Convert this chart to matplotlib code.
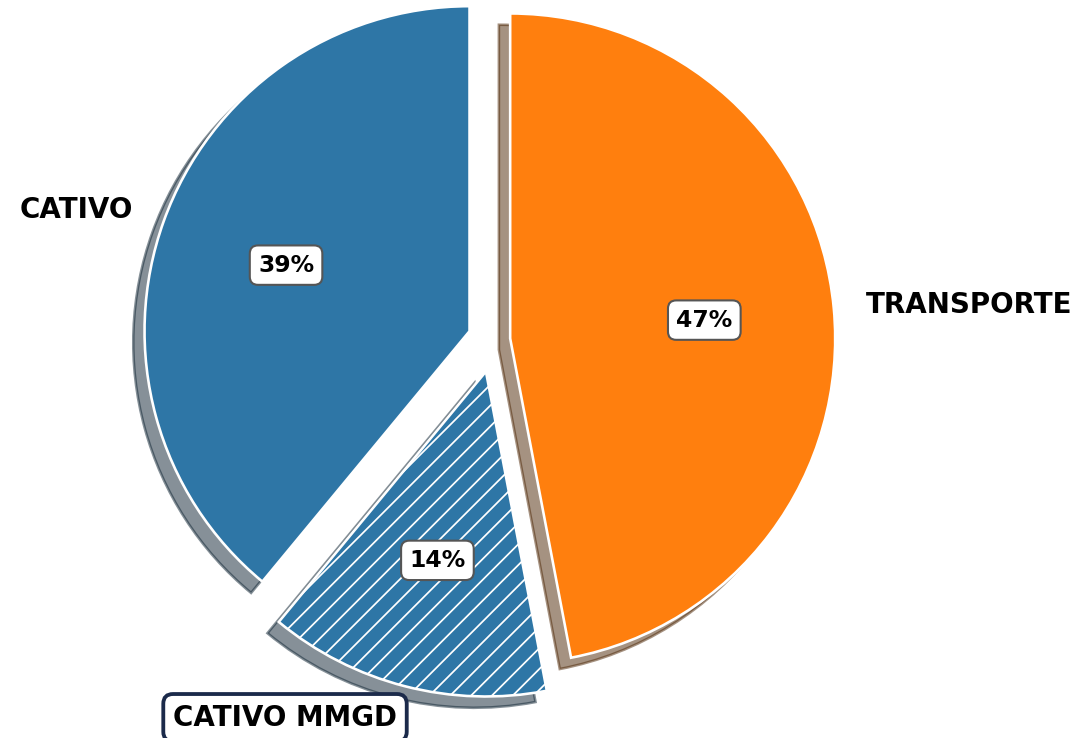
import matplotlib.pyplot as plt

# dados do grafico
categorias = ['TRANSPORTE', 'CATIVO MMGD', 'CATIVO']
valores = [47, 14, 39]
cores = ['#ff7f0e', '#2e76a6', '#2e76a6']
explodir = [0.05, 0.10, 0.08]

fig = plt.figure(figsize=(1082 / 125, 738 / 125), dpi=125)
ax = fig.add_axes([0, 0, 1, 1])

wedges, textos, pcts = ax.pie(
    valores,
    labels=categorias,
    colors=cores,
    explode=explodir,
    startangle=90,
    counterclock=False,
    autopct='%1.0f%%',
    pctdistance=0.6,
    labeldistance=1.1,
    shadow=True,
    wedgeprops={'edgecolor': 'white', 'linewidth': 1.5},
    textprops={'fontsize': 16, 'fontweight': 'bold'},
)

# fatia MMGD hachurada
wedges[1].set_hatch('//')

for t in pcts:
    t.set_fontsize(13.5)
    t.set_fontweight('bold')
    t.set_bbox(dict(boxstyle='round,pad=0.35', facecolor='white',
                    edgecolor='#555555', linewidth=1.2))

textos[1].set_bbox(dict(boxstyle='round,pad=0.35', facecolor='white',
                        edgecolor='#1b2a4a', linewidth=2.2))

# mesma escala do original: raio = 325 px, centro em (494, 340)
r = 325
cx, cy = 494, 340
ax.set_xlim(-cx / r, (1082 - cx) / r)
ax.set_ylim(-(738 - cy) / r, cy / r)
ax.set_aspect('equal')
ax.axis('off')

fig.savefig('out.png', dpi=125)
